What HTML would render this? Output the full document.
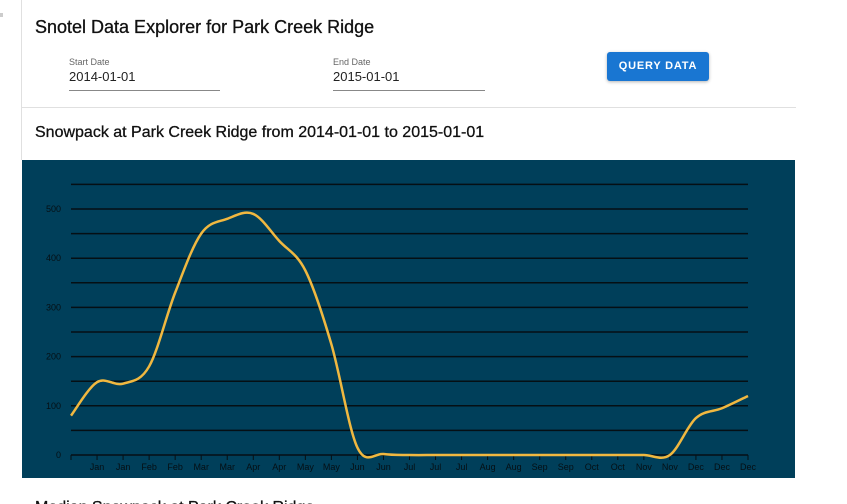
<!DOCTYPE html>
<html><head><meta charset="utf-8"><style>
html,body{margin:0;width:847px;height:504px;overflow:hidden;background:#fff;font-family:"Liberation Sans",sans-serif;position:relative}
.abs{position:absolute}
</style></head><body>
<div class="abs" style="left:21px;top:0;width:1px;height:160px;background:#e0e0e0"></div>
<div class="abs" style="left:0;top:13px;width:3px;height:4px;background:#ccc"></div>
<div class="abs" style="left:35px;top:17px;font-size:18px;color:#111;-webkit-text-stroke:0.3px #111">Snotel Data Explorer for Park Creek Ridge</div>
<div class="abs" style="left:69px;top:57px;font-size:9px;color:#666">Start Date</div>
<div class="abs" style="left:69px;top:69px;width:151px;height:21px;border-bottom:1px solid #888;font-size:13px;color:#222">2014-01-01</div>
<div class="abs" style="left:333px;top:57px;font-size:9px;color:#666">End Date</div>
<div class="abs" style="left:333px;top:69px;width:152px;height:21px;border-bottom:1px solid #888;font-size:13px;color:#222">2015-01-01</div>
<div class="abs" style="left:607px;top:52px;width:102px;height:29px;background:#1976d2;color:#fff;font-size:11px;font-weight:bold;letter-spacing:0.8px;text-align:center;line-height:29px;border-radius:3px;box-shadow:0 1px 3px rgba(0,0,0,.3)">QUERY DATA</div>
<div class="abs" style="left:22px;top:107px;width:774px;height:1px;background:#e0e0e0"></div>
<div class="abs" style="left:35px;top:124px;font-size:16px;color:#111;-webkit-text-stroke:0.3px #111">Snowpack at Park Creek Ridge from 2014-01-01 to 2015-01-01</div>
<div class="abs" style="left:35px;top:499px;font-size:16px;color:#111;-webkit-text-stroke:0.3px #111">Median Snowpack at Park Creek Ridge</div>
<svg class="abs" style="left:22px;top:160px" width="773" height="318">
<rect width="773" height="318" fill="#003f5a"/>
<g id="grid"></g><g id="axes"></g>
<path id="line" fill="none" stroke="#f0b840" stroke-width="2.5"/>
</svg>
<script>
const values=[80,148,145,180,330,450,480,490,435,375,225,15,2,0,0,0,0,0,0,0,0,0,0,0,75,95,120];
const tickLabels=["","Jan","Jan","Feb","Feb","Mar","Mar","Apr","Apr","May","May","Jun","Jun","Jul","Jul","Jul","Aug","Aug","Sep","Sep","Oct","Oct","Nov","Nov","Dec","Dec","Dec"];
const yTicks=[0,100,200,300,400,500];
const ns="http://www.w3.org/2000/svg";
const x0=49,x1=726,yBase=295,pxPer=0.492;
const X=i=>x0+(x1-x0)*i/(values.length-1);
const Y=v=>yBase-v*pxPer;
const grid=document.getElementById('grid'),axes=document.getElementById('axes');
for(let v=0;v<=550;v+=50){const l=document.createElementNS(ns,'line');


l.setAttribute('x1',x0);l.setAttribute('x2',x1);l.setAttribute('y1',Y(v));l.setAttribute('y2',Y(v));l.setAttribute('stroke','#050f14');l.setAttribute('stroke-width','1.5');grid.appendChild(l);}
yTicks.forEach(v=>{const t=document.createElementNS(ns,'text');


t.setAttribute('x',x0-10);t.setAttribute('y',Y(v)+3);t.setAttribute('text-anchor','end');t.setAttribute('font-size','9');t.setAttribute('fill','#050f14');t.textContent=v;axes.appendChild(t);});
tickLabels.forEach((s,i)=>{const l=document.createElementNS(ns,'line');


l.setAttribute('x1',X(i));l.setAttribute('x2',X(i));l.setAttribute('y1',yBase);l.setAttribute('y2',yBase+5);l.setAttribute('stroke','#050f14');axes.appendChild(l);
const t=document.createElementNS(ns,'text');


t.setAttribute('x',X(i));t.setAttribute('y',yBase+15);t.setAttribute('text-anchor','middle');t.setAttribute('font-size','9');t.setAttribute('fill','#050f14');t.textContent=s;axes.appendChild(t);});
const pts=values.map((v,i)=>[X(i),Y(v)]);
let d=`M${pts[0][0]},${pts[0][1]}`;
for(let i=0;i<pts.length-1;i++){const p0=pts[Math.max(i-1,0)],p1=pts[i],p2=pts[i+1],p3=pts[Math.min(i+2,pts.length-1)];
d+=` C${p1[0]+(p2[0]-p0[0])/6},${p1[1]+(p2[1]-p0[1])/6} ${p2[0]-(p3[0]-p1[0])/6},${p2[1]-(p3[1]-p1[1])/6} ${p2[0]},${p2[1]}`;}
document.getElementById('line').setAttribute('d',d);
</script>
</body></html>
